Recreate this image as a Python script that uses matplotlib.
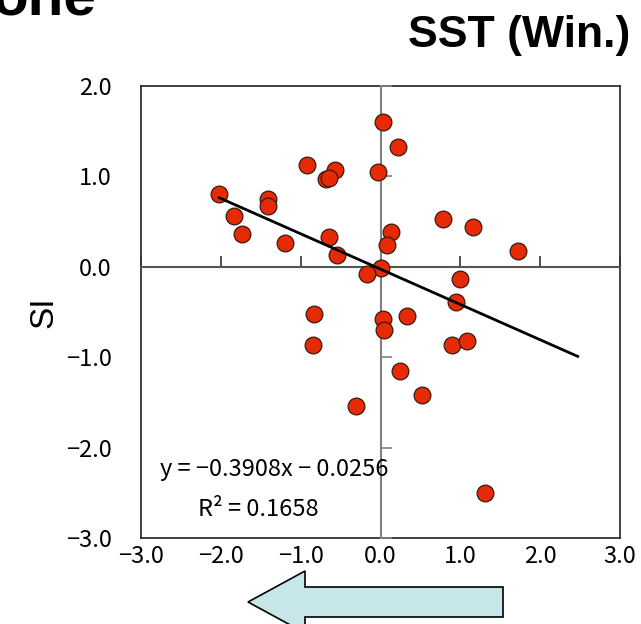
import matplotlib
matplotlib.use("Agg")
import matplotlib.pyplot as plt
from matplotlib.patches import FancyArrow

plt.rcParams['font.family'] = ['Noto Sans CJK JP', 'DejaVu Sans']
plt.rcParams['axes.unicode_minus'] = True

# SST (winter) anomaly vs SI
sst = [-2.02, -1.83, -1.73, -1.41, -1.41, -1.19, -0.92, -0.57, -0.68, -0.65,
       -0.64, -0.55, 0.03, 0.22, -0.03, 0.13, 0.08, 0.01, -0.17,
       -0.83, -0.85, 0.03, 0.05, 0.33, 0.24, 0.52, -0.31,
       0.78, 1.16, 1.72, 0.99, 0.95, 0.89, 1.08, 1.31]
si = [0.81, 0.56, 0.36, 0.75, 0.67, 0.26, 1.13, 1.07, 0.97, 0.98,
      0.33, 0.13, 1.60, 1.32, 1.05, 0.39, 0.24, -0.01, -0.08,
      -0.52, -0.86, -0.58, -0.70, -0.54, -1.15, -1.42, -1.54,
      0.53, 0.44, 0.18, -0.13, -0.39, -0.86, -0.82, -2.50]

slope = -0.3908
intercept = -0.0256
r2 = 0.1658
fit_x = [-2.02, 2.47]

xticks = [-3, -2, -1, 0, 1, 2, 3]
yticks = [-3, -2, -1, 0, 1, 2]


def fmt(v):
    return ("%.1f" % abs(v)) if v >= 0 else "\u2212%.1f" % abs(v)


fig = plt.figure(figsize=(6.41, 6.24), dpi=100)
rect = [141 / 641, 1 - 538 / 624, 479 / 641, 452 / 624]

# frame + labels
axf = fig.add_axes(rect)
axf.set_xlim(-3, 3)
axf.set_ylim(-3, 2)
axf.set_xticks(xticks)
axf.set_yticks(yticks)
axf.set_xticklabels([fmt(v) for v in xticks])
axf.set_yticklabels([fmt(v) for v in yticks])
axf.xaxis.set_tick_params(length=0, pad=5, labelsize=17)
axf.yaxis.set_tick_params(length=0, pad=21, labelsize=17)
for s in axf.spines.values():
    s.set_linewidth(1.2)
    s.set_color("#222222")
axf.set_ylabel("SI", fontsize=24, family=['Liberation Sans', 'DejaVu Sans'], labelpad=5)

# axes crossing at zero
ax = fig.add_axes(rect, sharex=axf, sharey=axf)
ax.patch.set_alpha(0)
ax.spines['top'].set_visible(False)
ax.spines['right'].set_visible(False)
ax.spines['left'].set_position(('data', 0))
ax.spines['bottom'].set_position(('data', 0))
ax.spines['left'].set_color("#808080")
ax.spines['left'].set_linewidth(1.5)
ax.spines['bottom'].set_color("#555555")
ax.spines['bottom'].set_linewidth(1.5)
ax.tick_params(axis='x', direction='in', length=8, width=1.2, colors="#333333", labelbottom=False)
ax.tick_params(axis='y', direction='in', length=8, width=1.2, colors="#808080", labelleft=False)

ax.scatter(sst, si, s=145, color="#e62a05", edgecolor="#3a1a10", linewidth=0.9, zorder=3)
ax.plot(fit_x, [slope * v + intercept for v in fit_x], color="black", lw=2, zorder=4)

ax.text(-2.76, -2.24, "y = \u22120.3908x \u2212 0.0256", fontsize=17, va='center', ha='left')
ax.text(-2.28, -2.68, "R\u00b2 = 0.1658", fontsize=17, va='center', ha='left')

fig.text(0.984, 1 - 36 / 624, "SST (Win.)", fontsize=32, fontweight='bold',
         family=['Liberation Sans', 'DejaVu Sans'], ha='right', va='center')
fig.text(-0.012, 1 - 15 / 624, "one", fontsize=42, fontweight='bold',
         family=['Liberation Sans', 'DejaVu Sans'], ha='left', va='baseline')

arrow = FancyArrow(503 / 641, 1 - 602 / 624, -(503 - 248) / 641, 0,
                   width=30 / 624, head_width=62 / 624, head_length=57 / 641,
                   length_includes_head=True, transform=fig.transFigure,
                   facecolor="#c6e6e8", edgecolor="black", lw=1.2)
fig.patches.append(arrow)

fig.savefig("out.png", dpi=100)
